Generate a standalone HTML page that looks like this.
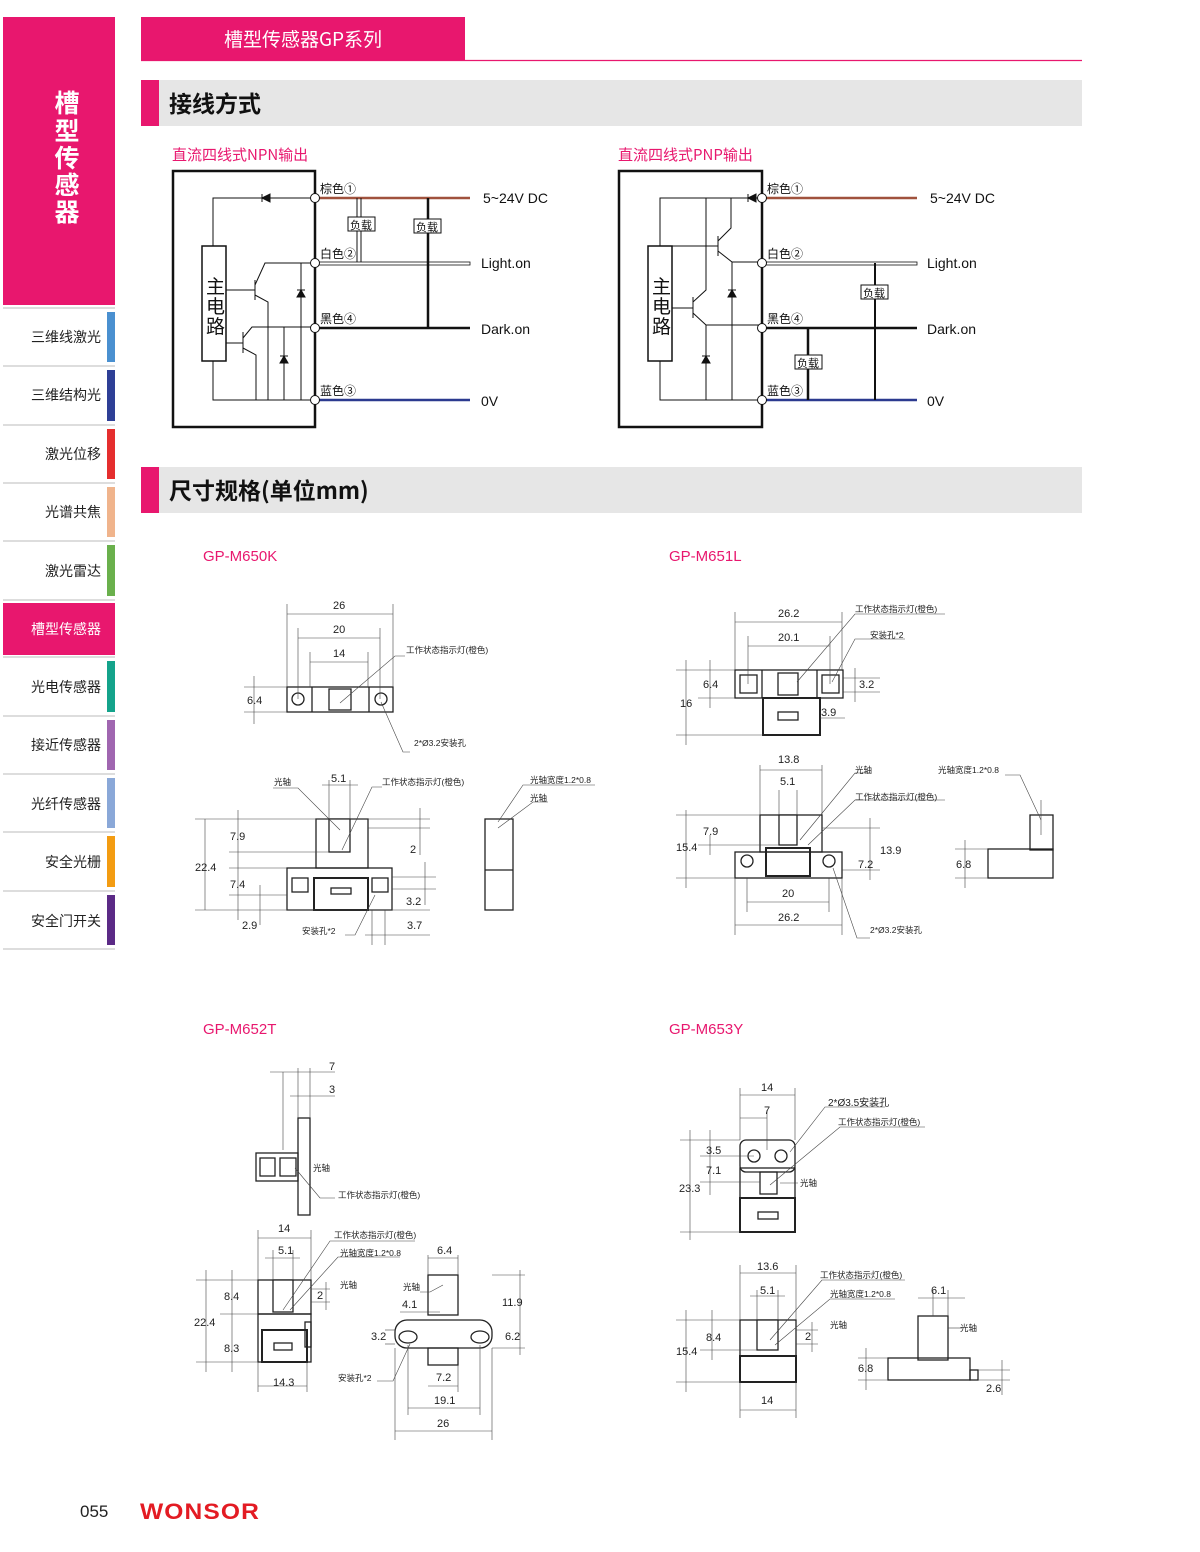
<!DOCTYPE html>
<html><head><meta charset="utf-8"><style>
body{margin:0;background:#fff}
svg{display:block}
text{font-family:"Liberation Sans","Noto Sans CJK SC",sans-serif}
.cn{font-family:"Noto Sans CJK SC","Liberation Sans",sans-serif}
</style></head><body>
<svg width="1200" height="1552" viewBox="0 0 1200 1552" xmlns="http://www.w3.org/2000/svg">
<!-- sidebar -->
<rect x="3" y="17" width="112" height="288" fill="#e8176e"/>
<text x="67" y="112" font-size="25" font-weight="bold" fill="#fff" text-anchor="middle" class="cn">槽</text>
<text x="67" y="140" font-size="25" font-weight="bold" fill="#fff" text-anchor="middle" class="cn">型</text>
<text x="67" y="167" font-size="25" font-weight="bold" fill="#fff" text-anchor="middle" class="cn">传</text>
<text x="67" y="194" font-size="25" font-weight="bold" fill="#fff" text-anchor="middle" class="cn">感</text>
<text x="67" y="221" font-size="25" font-weight="bold" fill="#fff" text-anchor="middle" class="cn">器</text>
<g font-size="14" class="cn" text-anchor="end" fill="#222">
<line x1="3" y1="308" x2="115" y2="308" stroke="#bbb"/>
<rect x="107" y="312" width="8" height="50" fill="#4a90d0"/><text x="101" y="342" class="cn">三维线激光</text>
<line x1="3" y1="366" x2="115" y2="366" stroke="#bbb"/>
<rect x="107" y="370" width="8" height="51" fill="#2e3f96"/><text x="101" y="400" class="cn">三维结构光</text>
<line x1="3" y1="425" x2="115" y2="425" stroke="#bbb"/>
<rect x="107" y="429" width="8" height="50" fill="#e52e2e"/><text x="101" y="459" class="cn">激光位移</text>
<line x1="3" y1="483" x2="115" y2="483" stroke="#bbb"/>
<rect x="107" y="487" width="8" height="50" fill="#f0b48c"/><text x="101" y="517" class="cn">光谱共焦</text>
<line x1="3" y1="541" x2="115" y2="541" stroke="#bbb"/>
<rect x="107" y="545" width="8" height="51" fill="#6ab04c"/><text x="101" y="576" class="cn">激光雷达</text>
<line x1="3" y1="600" x2="115" y2="600" stroke="#bbb"/>
<rect x="3" y="603" width="112" height="52" fill="#e8176e"/><text x="101" y="634" fill="#fff" class="cn">槽型传感器</text>
<line x1="3" y1="657" x2="115" y2="657" stroke="#bbb"/>
<rect x="107" y="661" width="8" height="51" fill="#14a38b"/><text x="101" y="692" class="cn">光电传感器</text>
<line x1="3" y1="716" x2="115" y2="716" stroke="#bbb"/>
<rect x="107" y="720" width="8" height="50" fill="#a066b0"/><text x="101" y="750" class="cn">接近传感器</text>
<line x1="3" y1="774" x2="115" y2="774" stroke="#bbb"/>
<rect x="107" y="778" width="8" height="50" fill="#8aa8d8"/><text x="101" y="809" class="cn">光纤传感器</text>
<line x1="3" y1="832" x2="115" y2="832" stroke="#bbb"/>
<rect x="107" y="836" width="8" height="51" fill="#f39c12"/><text x="101" y="867" class="cn">安全光栅</text>
<line x1="3" y1="891" x2="115" y2="891" stroke="#bbb"/>
<rect x="107" y="895" width="8" height="50" fill="#5b2a86"/><text x="101" y="926" class="cn">安全门开关</text>
<line x1="3" y1="949" x2="115" y2="949" stroke="#bbb"/>
</g>
<!-- header -->
<rect x="141" y="17" width="324" height="43" fill="#e8176e"/>
<text x="303" y="46" font-size="19" fill="#fff" text-anchor="middle" class="cn">槽型传感器GP系列</text>
<line x1="141" y1="60.5" x2="1082" y2="60.5" stroke="#e8176e" stroke-width="1.2"/>
<rect x="141" y="80" width="941" height="46" fill="#e6e6e6"/><rect x="141" y="80" width="18" height="46" fill="#e8176e"/>
<text x="169" y="112" font-size="23" font-weight="bold" fill="#111" class="cn">接线方式</text>
<rect x="141" y="467" width="941" height="46" fill="#e6e6e6"/><rect x="141" y="467" width="18" height="46" fill="#e8176e"/>
<text x="169" y="499" font-size="23" font-weight="bold" fill="#111" class="cn">尺寸规格(单位mm)</text>

<text x="172" y="160" font-size="15" fill="#e8176e" class="cn">直流四线式NPN输出</text>
<text x="618" y="160" font-size="15" fill="#e8176e" class="cn">直流四线式PNP输出</text>

<!-- NPN -->
<g stroke="#111" fill="none" stroke-width="1">
<rect x="173" y="171" width="142" height="256" stroke-width="2.5"/>
<rect x="202" y="246" width="24" height="115" stroke-width="1.5" fill="#fff"/>
<polyline points="213,246 213,198 315,198"/>
<polyline points="213,361 213,400 315,400"/>
<path d="M262,194 L262,202 M262,198 L270,194 L270,202 Z" fill="#111"/>
<line x1="226" y1="290" x2="255" y2="290"/><line x1="255" y1="280" x2="255" y2="300"/>
<polyline points="255,285 265,263 315,263"/><polyline points="255,295 268,302 268,400"/>
<line x1="226" y1="343" x2="243" y2="343"/><line x1="243" y1="332" x2="243" y2="353"/>
<polyline points="243,338 252,327 315,327"/><polyline points="243,348 256,355 256,400"/>
<line x1="301" y1="263" x2="301" y2="400"/><line x1="284" y1="327" x2="284" y2="400"/>
<path d="M297,297 L305,297 L301,290 Z M297,290 L305,290" fill="#111"/>
<path d="M280,363 L288,363 L284,356 Z M280,356 L288,356" fill="#111"/>
<line x1="319" y1="198" x2="470" y2="198" stroke="#a0523d" stroke-width="2.5"/>
<rect x="319" y="262" width="151" height="3" stroke-width="0.8"/>
<line x1="319" y1="328" x2="470" y2="328" stroke-width="2.5"/>
<line x1="319" y1="400" x2="470" y2="400" stroke="#2b3a8f" stroke-width="2.5"/>
<polyline points="361,198 361,262"/><line x1="357" y1="198" x2="357" y2="262"/>
<line x1="428" y1="198" x2="428" y2="328" stroke-width="2.5"/>
<circle cx="315" cy="198" r="4.5" fill="#fff"/><circle cx="315" cy="263" r="4.5" fill="#fff"/>
<circle cx="315" cy="328" r="4.5" fill="#fff"/><circle cx="315" cy="400" r="4.5" fill="#fff"/>
<rect x="348" y="217" width="27" height="14" fill="#fff"/><rect x="414" y="219" width="27" height="14" fill="#fff"/>
</g>
<g font-size="12" class="cn" fill="#111">
<text x="320" y="193">棕色①</text><text x="320" y="258">白色②</text><text x="320" y="323">黑色④</text><text x="320" y="395">蓝色③</text>
<text x="350" y="229" font-size="11">负载</text><text x="416" y="231" font-size="11">负载</text>
<text x="206" y="293" font-size="19">主</text><text x="206" y="313" font-size="19">电</text><text x="206" y="333" font-size="19">路</text>
</g>
<g font-size="14" fill="#111"><text x="483" y="203">5~24V DC</text><text x="481" y="268">Light.on</text><text x="481" y="334">Dark.on</text><text x="481" y="406">0V</text></g>

<!-- PNP -->
<g stroke="#111" fill="none" stroke-width="1">
<rect x="619" y="171" width="143" height="256" stroke-width="2.5"/>
<rect x="648" y="246" width="24" height="115" stroke-width="1.5" fill="#fff"/>
<polyline points="660,246 660,198 762,198"/>
<polyline points="660,361 660,400 762,400"/>
<path d="M748,194 L748,202 M748,198 L756,194 L756,202 Z" fill="#111"/>
<line x1="672" y1="246" x2="718" y2="246"/><line x1="718" y1="236" x2="718" y2="256"/>
<polyline points="718,241 731,228 731,198"/><polyline points="718,251 732,262 762,262"/>
<line x1="672" y1="308" x2="693" y2="308"/><line x1="693" y1="297" x2="693" y2="318"/>
<polyline points="693,302 706,290 706,198"/><polyline points="693,313 706,325 762,325"/>
<line x1="732" y1="262" x2="732" y2="400"/><line x1="706" y1="325" x2="706" y2="400"/>
<path d="M728,297 L736,297 L732,290 Z M728,290 L736,290" fill="#111"/>
<path d="M702,363 L710,363 L706,356 Z M702,356 L710,356" fill="#111"/>
<line x1="766" y1="198" x2="917" y2="198" stroke="#a0523d" stroke-width="2.5"/>
<rect x="766" y="262" width="151" height="3" stroke-width="0.8"/>
<line x1="766" y1="328" x2="917" y2="328" stroke-width="2.5"/>
<line x1="766" y1="400" x2="917" y2="400" stroke="#2b3a8f" stroke-width="2.5"/>
<line x1="875" y1="263" x2="875" y2="400" stroke-width="2"/>
<line x1="808" y1="328" x2="808" y2="400" stroke-width="2.5"/>
<circle cx="762" cy="198" r="4.5" fill="#fff"/><circle cx="762" cy="263" r="4.5" fill="#fff"/>
<circle cx="762" cy="328" r="4.5" fill="#fff"/><circle cx="762" cy="400" r="4.5" fill="#fff"/>
<rect x="861" y="285" width="27" height="14" fill="#fff"/><rect x="795" y="355" width="27" height="14" fill="#fff"/>
</g>
<g font-size="12" class="cn" fill="#111">
<text x="767" y="193">棕色①</text><text x="767" y="258">白色②</text><text x="767" y="323">黑色④</text><text x="767" y="395">蓝色③</text>
<text x="863" y="297" font-size="11">负载</text><text x="797" y="367" font-size="11">负载</text>
<text x="652" y="293" font-size="19">主</text><text x="652" y="313" font-size="19">电</text><text x="652" y="333" font-size="19">路</text>
</g>
<g font-size="14" fill="#111"><text x="930" y="203">5~24V DC</text><text x="927" y="268">Light.on</text><text x="927" y="334">Dark.on</text><text x="927" y="406">0V</text></g>

<!-- model titles -->
<g font-size="15" fill="#e8176e"><text x="203" y="561">GP-M650K</text><text x="669" y="561">GP-M651L</text><text x="203" y="1034">GP-M652T</text><text x="669" y="1034">GP-M653Y</text></g>

<!-- GP-M650K -->
<g stroke="#222" fill="none" stroke-width="1.3">
<rect x="287" y="687" width="106" height="25"/><line x1="312" y1="687" x2="312" y2="712"/><line x1="369" y1="687" x2="369" y2="712"/>
<circle cx="298" cy="699" r="6"/><circle cx="381" cy="699" r="6"/><rect x="329" y="689" width="22" height="21"/>
<rect x="316" y="819" width="52" height="49"/><rect x="287" y="868" width="105" height="42"/>
<rect x="329" y="819" width="21" height="33" fill="#fff"/><rect x="314" y="878" width="54" height="32" stroke-width="2"/>
<rect x="292" y="878" width="16" height="14"/><rect x="372" y="878" width="16" height="14"/><rect x="331" y="888" width="20" height="6"/>
<rect x="485" y="819" width="28" height="91"/><line x1="485" y1="870" x2="513" y2="870"/>
</g>
<g stroke="#444" stroke-width="0.6" fill="none">
<line x1="287" y1="604" x2="287" y2="687"/><line x1="393" y1="604" x2="393" y2="687"/><line x1="287" y1="614" x2="393" y2="614"/>
<line x1="298" y1="628" x2="298" y2="699"/><line x1="380" y1="628" x2="380" y2="699"/><line x1="298" y1="638" x2="380" y2="638"/>
<line x1="310" y1="652" x2="310" y2="687"/><line x1="368" y1="652" x2="368" y2="687"/><line x1="310" y1="662" x2="368" y2="662"/>
<line x1="244" y1="687" x2="287" y2="687"/><line x1="244" y1="712" x2="287" y2="712"/><line x1="254" y1="676" x2="254" y2="724"/>
<polyline points="405,656 395,656 340,703"/><polyline points="410,752 403,752 381,702"/>
<line x1="195" y1="819" x2="430" y2="819"/><line x1="195" y1="910" x2="430" y2="910"/><line x1="205" y1="819" x2="205" y2="910"/>
<line x1="229" y1="852" x2="329" y2="852"/><line x1="229" y1="868" x2="287" y2="868"/><line x1="238" y1="810" x2="238" y2="920"/>
<line x1="229" y1="895" x2="287" y2="895"/><line x1="260" y1="885" x2="260" y2="925"/>
<line x1="329" y1="780" x2="329" y2="819"/><line x1="350" y1="780" x2="350" y2="819"/><line x1="322" y1="785" x2="358" y2="785"/>
<line x1="368" y1="828" x2="430" y2="828"/><line x1="420" y1="808" x2="420" y2="855"/>
<line x1="392" y1="877" x2="436" y2="877"/><line x1="392" y1="889" x2="436" y2="889"/><line x1="425" y1="862" x2="425" y2="905"/>
<line x1="372" y1="910" x2="372" y2="945"/><line x1="385" y1="910" x2="385" y2="945"/><line x1="365" y1="935" x2="430" y2="935"/>
<polyline points="273,788 298,788 340,830"/><polyline points="382,787 372,787 342,850"/><polyline points="345,935 355,935 375,895"/>
<polyline points="595,785 523,785 498,822"/><polyline points="548,802 533,802 498,828"/>
</g>
<g font-size="11" fill="#222">
<text x="333" y="609">26</text><text x="333" y="633">20</text><text x="333" y="657">14</text><text x="247" y="704">6.4</text>
<text x="331" y="782">5.1</text><text x="230" y="840">7.9</text><text x="195" y="871">22.4</text><text x="230" y="888">7.4</text><text x="242" y="929">2.9</text>
<text x="410" y="853">2</text><text x="406" y="905">3.2</text><text x="407" y="929">3.7</text>
</g>
<g font-size="8.5" fill="#222" class="cn"><text x="406" y="653">工作状态指示灯(橙色)</text><text x="414" y="746">2*Ø3.2安装孔</text>
<text x="274" y="785">光轴</text><text x="382" y="785">工作状态指示灯(橙色)</text><text x="302" y="934">安装孔*2</text>
<text x="530" y="783">光轴宽度1.2*0.8</text><text x="530" y="801">光轴</text></g>

<!-- GP-M651L -->
<g stroke="#222" fill="none" stroke-width="1.3">
<rect x="735" y="670" width="108" height="28"/><rect x="740" y="675" width="17" height="18"/><rect x="822" y="675" width="17" height="18"/>
<line x1="762" y1="670" x2="762" y2="698"/><line x1="817" y1="670" x2="817" y2="698"/><rect x="778" y="673" width="20" height="22"/>
<rect x="763" y="698" width="57" height="37" stroke-width="2"/><rect x="778" y="712" width="20" height="8"/>
<rect x="760" y="815" width="62" height="37"/><rect x="779" y="815" width="18" height="30" fill="#fff"/>
<rect x="735" y="852" width="107" height="26"/><circle cx="747" cy="861" r="6"/><circle cx="829" cy="861" r="6"/>
<rect x="766" y="848" width="44" height="28" stroke-width="2"/>
<rect x="988" y="849" width="65" height="29"/><rect x="1030" y="815" width="23" height="35"/>
</g>
<g stroke="#444" stroke-width="0.6" fill="none">
<line x1="735" y1="612" x2="735" y2="670"/><line x1="842" y1="612" x2="842" y2="670"/><line x1="735" y1="622" x2="842" y2="622"/>
<line x1="748" y1="636" x2="748" y2="684"/><line x1="830" y1="636" x2="830" y2="684"/><line x1="748" y1="646" x2="830" y2="646"/>
<line x1="676" y1="670" x2="735" y2="670"/><line x1="676" y1="735" x2="763" y2="735"/><line x1="686" y1="660" x2="686" y2="745"/>
<line x1="698" y1="698" x2="735" y2="698"/><line x1="710" y1="660" x2="710" y2="708"/>
<line x1="843" y1="678" x2="880" y2="678"/><line x1="843" y1="692" x2="880" y2="692"/><line x1="855" y1="668" x2="855" y2="702"/>
<line x1="820" y1="718" x2="845" y2="718"/><polyline points="945,614 855,614 797,682"/><polyline points="905,639 855,639 832,682"/>
<line x1="760" y1="765" x2="760" y2="815"/><line x1="822" y1="765" x2="822" y2="815"/><line x1="760" y1="770" x2="822" y2="770"/>
<line x1="779" y1="790" x2="779" y2="815"/><line x1="797" y1="790" x2="797" y2="815"/>
<line x1="676" y1="815" x2="760" y2="815"/><line x1="676" y1="878" x2="735" y2="878"/><line x1="686" y1="810" x2="686" y2="888"/>
<line x1="698" y1="845" x2="779" y2="845"/><line x1="710" y1="835" x2="710" y2="855"/>
<line x1="822" y1="828" x2="880" y2="828"/><line x1="842" y1="870" x2="880" y2="870"/><line x1="870" y1="818" x2="870" y2="880"/>
<line x1="735" y1="878" x2="735" y2="935"/><line x1="842" y1="878" x2="842" y2="935"/><line x1="735" y1="925" x2="842" y2="925"/>
<line x1="747" y1="878" x2="747" y2="912"/><line x1="829" y1="878" x2="829" y2="912"/><line x1="747" y1="902" x2="829" y2="902"/>
<polyline points="870,773 855,773 800,840"/><polyline points="945,800 855,800 808,845"/><polyline points="870,938 857,938 833,868"/>
<polyline points="1005,775 1020,775 1041,820"/><line x1="1041" y1="800" x2="1041" y2="835"/><line x1="955" y1="849" x2="988" y2="849"/><line x1="955" y1="878" x2="988" y2="878"/><line x1="965" y1="840" x2="965" y2="888"/>
</g>
<g font-size="11" fill="#222">
<text x="778" y="617">26.2</text><text x="778" y="641">20.1</text><text x="703" y="688">6.4</text><text x="680" y="707">16</text><text x="859" y="688">3.2</text><text x="821" y="716">3.9</text>
<text x="778" y="763">13.8</text><text x="780" y="785">5.1</text><text x="703" y="835">7.9</text><text x="676" y="851">15.4</text><text x="880" y="854">13.9</text><text x="858" y="868">7.2</text>
<text x="782" y="897">20</text><text x="778" y="921">26.2</text><text x="956" y="868">6.8</text>
</g>
<g font-size="8.5" fill="#222" class="cn"><text x="855" y="612">工作状态指示灯(橙色)</text><text x="870" y="638">安装孔*2</text>
<text x="855" y="773">光轴</text><text x="855" y="800">工作状态指示灯(橙色)</text><text x="870" y="933">2*Ø3.2安装孔</text><text x="938" y="773">光轴宽度1.2*0.8</text></g>

<!-- GP-M652T -->
<g stroke="#222" fill="none" stroke-width="1.3">
<rect x="298" y="1118" width="12" height="97"/><rect x="256" y="1153" width="42" height="28"/><rect x="260" y="1158" width="15" height="18"/><rect x="280" y="1158" width="16" height="18"/>
<rect x="258" y="1280" width="53" height="34"/><rect x="273" y="1280" width="20" height="32" fill="#fff"/>
<rect x="258" y="1314" width="53" height="48"/><rect x="262" y="1330" width="45" height="32" stroke-width="2"/><rect x="274" y="1343" width="18" height="7"/><rect x="305" y="1322" width="6" height="25"/>
<rect x="428" y="1275" width="30" height="40"/><rect x="395" y="1320" width="97" height="28" rx="12"/><rect x="428" y="1348" width="30" height="17"/>
<ellipse cx="408" cy="1337" rx="9" ry="6"/><ellipse cx="480" cy="1337" rx="9" ry="6"/>
</g>
<g stroke="#444" stroke-width="0.6" fill="none">
<line x1="270" y1="1072" x2="335" y2="1072"/><line x1="283" y1="1072" x2="283" y2="1150"/><line x1="298" y1="1068" x2="298" y2="1118"/><line x1="310" y1="1068" x2="310" y2="1118"/><line x1="290" y1="1096" x2="335" y2="1096"/>
<polyline points="335,1198 320,1198 295,1168"/>
<line x1="258" y1="1230" x2="258" y2="1280"/><line x1="311" y1="1230" x2="311" y2="1280"/><line x1="258" y1="1238" x2="311" y2="1238"/>
<line x1="273" y1="1250" x2="273" y2="1280"/><line x1="293" y1="1250" x2="293" y2="1280"/><line x1="265" y1="1258" x2="300" y2="1258"/>
<line x1="196" y1="1280" x2="258" y2="1280"/><line x1="196" y1="1362" x2="258" y2="1362"/><line x1="206" y1="1270" x2="206" y2="1372"/><line x1="220" y1="1314" x2="258" y2="1314"/><line x1="232" y1="1270" x2="232" y2="1372"/>
<line x1="311" y1="1289" x2="330" y2="1289"/><line x1="311" y1="1302" x2="330" y2="1302"/><line x1="326" y1="1282" x2="326" y2="1310"/>
<line x1="258" y1="1362" x2="258" y2="1392"/><line x1="307" y1="1362" x2="307" y2="1392"/><line x1="258" y1="1386" x2="307" y2="1386"/>
<polyline points="415,1241 330,1241 283,1310"/><polyline points="400,1257 338,1257 290,1310"/>
<line x1="428" y1="1255" x2="428" y2="1275"/><line x1="458" y1="1255" x2="458" y2="1275"/><line x1="428" y1="1258" x2="458" y2="1258"/>
<line x1="395" y1="1348" x2="395" y2="1440"/><line x1="492" y1="1348" x2="492" y2="1440"/><line x1="395" y1="1431" x2="492" y2="1431"/>
<line x1="408" y1="1345" x2="408" y2="1415"/><line x1="480" y1="1345" x2="480" y2="1415"/><line x1="408" y1="1408" x2="480" y2="1408"/>
<line x1="428" y1="1386" x2="458" y2="1386"/><line x1="458" y1="1365" x2="458" y2="1392"/>
<line x1="492" y1="1275" x2="525" y2="1275"/><line x1="492" y1="1348" x2="525" y2="1348"/><line x1="520" y1="1270" x2="520" y2="1355"/>
<line x1="385" y1="1330" x2="395" y2="1330"/><line x1="385" y1="1344" x2="395" y2="1344"/>
<line x1="400" y1="1312" x2="440" y2="1312"/><polyline points="377,1381 393,1381 410,1344"/><polyline points="420,1292 430,1292 443,1285"/>
</g>
<g font-size="11" fill="#222">
<text x="329" y="1070">7</text><text x="329" y="1093">3</text><text x="278" y="1232">14</text><text x="278" y="1254">5.1</text><text x="224" y="1300">8.4</text><text x="194" y="1326">22.4</text><text x="224" y="1352">8.3</text><text x="273" y="1386">14.3</text><text x="317" y="1299">2</text>
<text x="437" y="1254">6.4</text><text x="402" y="1308">4.1</text><text x="502" y="1306">11.9</text><text x="371" y="1340">3.2</text><text x="505" y="1340">6.2</text><text x="436" y="1381">7.2</text><text x="434" y="1404">19.1</text><text x="437" y="1427">26</text>
</g>
<g font-size="8.5" fill="#222" class="cn"><text x="313" y="1171">光轴</text><text x="338" y="1198">工作状态指示灯(橙色)</text><text x="334" y="1238">工作状态指示灯(橙色)</text><text x="340" y="1256">光轴宽度1.2*0.8</text><text x="340" y="1288">光轴</text><text x="403" y="1290">光轴</text><text x="338" y="1381">安装孔*2</text></g>

<!-- GP-M653Y -->
<g stroke="#222" fill="none" stroke-width="1.3">
<rect x="740" y="1140" width="55" height="32" rx="6"/><circle cx="754" cy="1156" r="6"/><circle cx="781" cy="1156" r="6"/>
<rect x="740" y="1168" width="55" height="30"/><rect x="760" y="1172" width="17" height="22"/>
<rect x="740" y="1198" width="55" height="34" stroke-width="2"/><rect x="758" y="1212" width="20" height="7"/>
<rect x="740" y="1320" width="56" height="36"/><rect x="757" y="1320" width="21" height="30" fill="#fff"/><rect x="740" y="1356" width="56" height="26" stroke-width="2"/>
<rect x="888" y="1358" width="82" height="22"/><rect x="918" y="1316" width="30" height="44"/><rect x="970" y="1370" width="8" height="10"/>
</g>
<g stroke="#444" stroke-width="0.6" fill="none">
<line x1="740" y1="1088" x2="740" y2="1140"/><line x1="795" y1="1088" x2="795" y2="1140"/><line x1="740" y1="1095" x2="795" y2="1095"/>
<line x1="767" y1="1110" x2="767" y2="1150"/><line x1="740" y1="1118" x2="767" y2="1118"/>
<line x1="680" y1="1140" x2="740" y2="1140"/><line x1="680" y1="1232" x2="740" y2="1232"/><line x1="690" y1="1130" x2="690" y2="1240"/>
<line x1="700" y1="1156" x2="754" y2="1156"/><line x1="700" y1="1182" x2="760" y2="1182"/><line x1="710" y1="1130" x2="710" y2="1195"/>
<polyline points="885,1107 825,1107 790,1152"/><polyline points="925,1127 840,1127 770,1185"/><line x1="780" y1="1183" x2="798" y2="1183"/>
<line x1="740" y1="1265" x2="740" y2="1320"/><line x1="796" y1="1265" x2="796" y2="1320"/><line x1="740" y1="1273" x2="796" y2="1273"/>
<line x1="757" y1="1290" x2="757" y2="1320"/><line x1="778" y1="1290" x2="778" y2="1320"/><line x1="750" y1="1296" x2="785" y2="1296"/>
<line x1="676" y1="1320" x2="740" y2="1320"/><line x1="676" y1="1382" x2="740" y2="1382"/><line x1="686" y1="1310" x2="686" y2="1392"/><line x1="700" y1="1350" x2="757" y2="1350"/><line x1="712" y1="1310" x2="712" y2="1360"/>
<line x1="796" y1="1330" x2="818" y2="1330"/><line x1="796" y1="1344" x2="818" y2="1344"/><line x1="812" y1="1322" x2="812" y2="1352"/>
<line x1="740" y1="1382" x2="740" y2="1418"/><line x1="796" y1="1382" x2="796" y2="1418"/><line x1="740" y1="1410" x2="796" y2="1410"/>
<polyline points="905,1280 822,1280 770,1340"/><polyline points="895,1299 830,1299 775,1345"/>
<line x1="933" y1="1290" x2="933" y2="1316"/><line x1="948" y1="1290" x2="948" y2="1316"/><line x1="918" y1="1298" x2="965" y2="1298"/>
<line x1="948" y1="1328" x2="962" y2="1328"/><line x1="858" y1="1358" x2="888" y2="1358"/><line x1="858" y1="1380" x2="888" y2="1380"/><line x1="866" y1="1348" x2="866" y2="1390"/>
<line x1="978" y1="1370" x2="1010" y2="1370"/><line x1="978" y1="1380" x2="1010" y2="1380"/><line x1="1002" y1="1360" x2="1002" y2="1395"/>
</g>
<g font-size="11" fill="#222">
<text x="761" y="1091">14</text><text x="764" y="1114">7</text><text x="706" y="1154">3.5</text><text x="706" y="1174">7.1</text><text x="679" y="1192">23.3</text>
<text x="757" y="1270">13.6</text><text x="760" y="1294">5.1</text><text x="706" y="1341">8.4</text><text x="676" y="1355">15.4</text><text x="805" y="1340">2</text><text x="761" y="1404">14</text>
<text x="931" y="1294">6.1</text><text x="858" y="1372">6.8</text><text x="986" y="1392">2.6</text>
</g>
<g font-size="8.5" fill="#222" class="cn"><text x="828" y="1106" font-size="10">2*Ø3.5安装孔</text><text x="838" y="1125">工作状态指示灯(橙色)</text><text x="800" y="1186">光轴</text>
<text x="820" y="1278">工作状态指示灯(橙色)</text><text x="830" y="1297">光轴宽度1.2*0.8</text><text x="830" y="1328">光轴</text><text x="960" y="1331">光轴</text></g>

<!-- footer -->
<text x="80" y="1517" font-size="17" fill="#222">055</text>
<text x="140" y="1519" font-size="22" font-weight="bold" fill="#e31b23" font-family="Liberation Sans" letter-spacing="1" textLength="120" lengthAdjust="spacingAndGlyphs">WONSOR</text>
</svg>
</body></html>
